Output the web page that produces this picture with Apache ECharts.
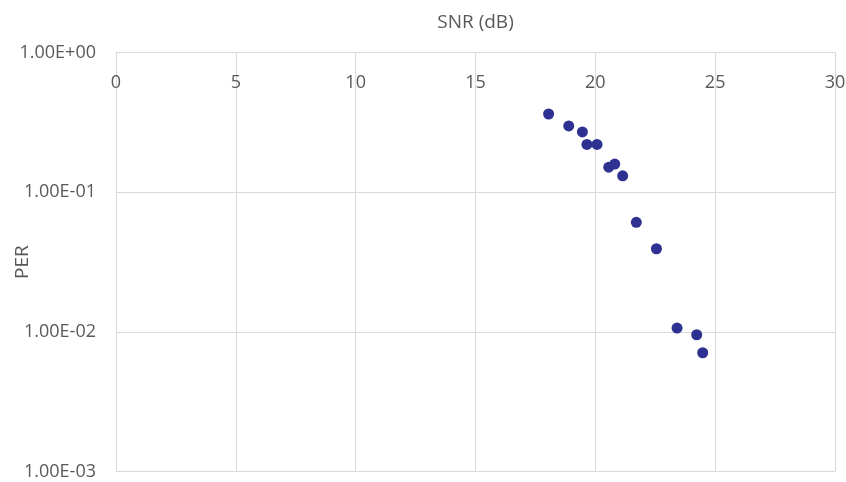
<!DOCTYPE html>
<html><head><meta charset="utf-8">
<script src="https://cdn.jsdelivr.net/npm/echarts@6/dist/echarts.min.js"></script>
<style>html,body{margin:0;padding:0;background:#fff}#c{width:846px;height:482px}</style>
</head><body><div id="c"></div>
<script>
var snr = [18.05, 18.89, 19.46, 19.65, 20.07, 20.56, 20.81, 21.14, 21.71, 22.55, 23.41, 24.23, 24.48];
var per = [0.363, 0.298, 0.270, 0.220, 0.220, 0.151, 0.159, 0.131, 0.0609, 0.0394, 0.01067, 0.00955, 0.00710];
var yTickValues = [1, 0.1, 0.01, 0.001];
var yTickLabels = ['1.00E+00', '1.00E-01', '1.00E-02', '1.00E-03'];
var xTitle = 'SNR (dB)';
var yTitle = 'PER';

var pts = snr.map(function (x, i) { return [x, per[i]]; });
var font = '"Open Sans", "Liberation Sans", sans-serif';
var chart = echarts.init(document.getElementById('c'));
chart.setOption({
  animation: false,
  grid: { left: 116, right: 11, top: 52.5, bottom: 10.3, containLabel: false, outerBoundsMode: 'none' },
  xAxis: {
    type: 'value', position: 'top', min: 0, max: 30, interval: 5,
    name: xTitle, nameLocation: 'middle', nameGap: 20, nameMoveOverlap: false,
    nameTextStyle: { color: '#595959', fontSize: 19, fontFamily: font },
    axisLine: { show: true, lineStyle: { color: '#d9d9d9', width: 1 } },
    axisTick: { show: false },
    axisLabel: { inside: true, margin: 21, color: '#595959', fontSize: 18, fontFamily: font },
    splitLine: { show: true, lineStyle: { color: '#d9d9d9', width: 1 } }
  },
  yAxis: {
    type: 'log', logBase: 10, min: 0.001, max: 1,
    name: yTitle, nameLocation: 'middle', nameGap: 84, nameMoveOverlap: false,
    nameTextStyle: { color: '#595959', fontSize: 19, fontFamily: font },
    axisLine: { show: true, lineStyle: { color: '#d9d9d9', width: 1 } },
    axisTick: { show: false },
    axisLabel: {
      margin: 20, color: '#595959', fontSize: 18, fontFamily: font,
      formatter: function (v) {
        for (var i = 0; i < yTickValues.length; i++) {
          if (Math.abs(Math.log10(v) - Math.log10(yTickValues[i])) < 1e-6) return yTickLabels[i];
        }
        return '';
      }
    },
    splitLine: { show: true, lineStyle: { color: '#d9d9d9', width: 1 } }
  },
  series: [{
    type: 'scatter', data: pts, symbol: 'circle', symbolSize: 11,
    itemStyle: { color: '#2e3192', opacity: 1 }
  }]
});
</script></body></html>
